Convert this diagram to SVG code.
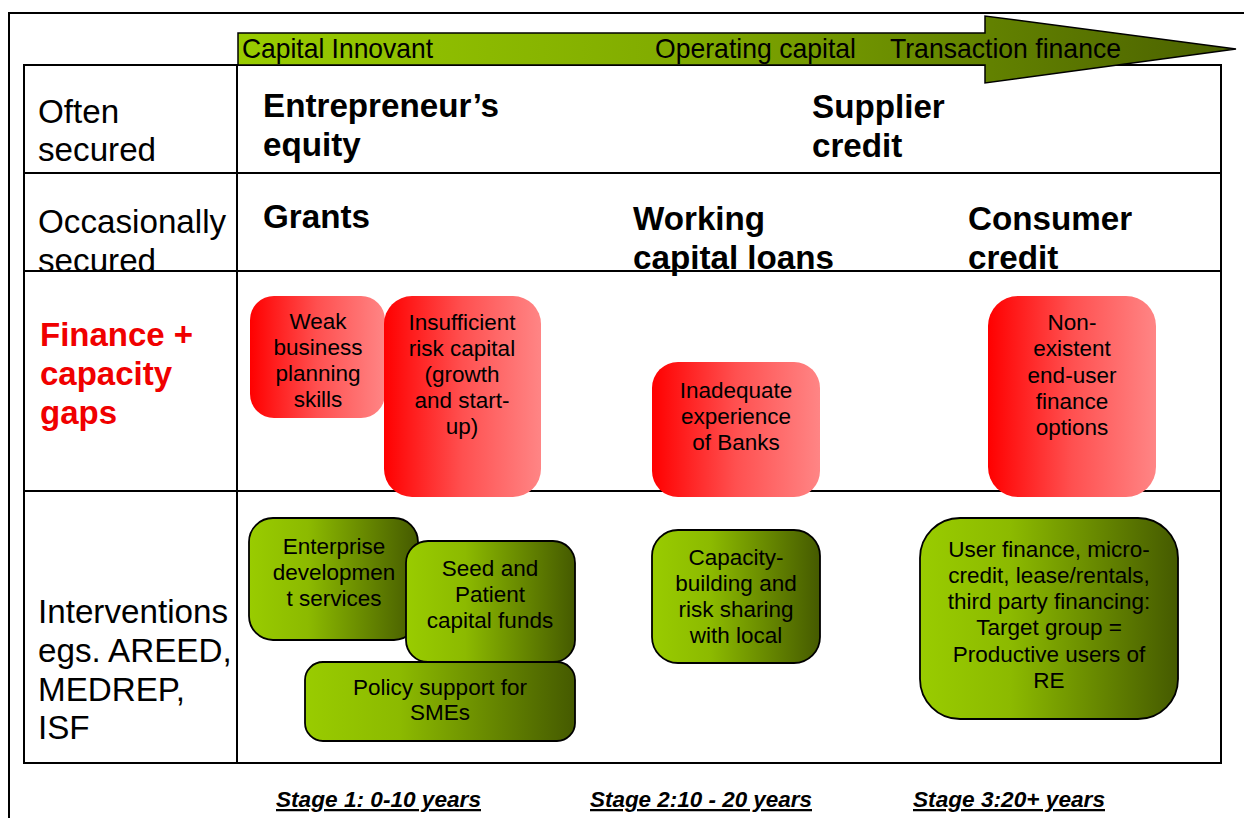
<svg xmlns="http://www.w3.org/2000/svg" width="1244" height="818" viewBox="0 0 1244 818">
<defs>
<linearGradient id="gRed" x1="0" y1="0" x2="1" y2="0">
<stop offset="0" stop-color="#ff0000"/>
<stop offset="0.5" stop-color="#ff5050"/>
<stop offset="1" stop-color="#ff8585"/>
</linearGradient>
<linearGradient id="gGreen" x1="0" y1="0" x2="1" y2="0">
<stop offset="0" stop-color="#99cc00"/>
<stop offset="0.35" stop-color="#8cba00"/>
<stop offset="1" stop-color="#455a00"/>
</linearGradient>
<linearGradient id="gArrow" gradientUnits="userSpaceOnUse" x1="238" y1="0" x2="1236" y2="0">
<stop offset="0" stop-color="#99cc00"/>
<stop offset="0.45" stop-color="#80aa00"/>
<stop offset="1" stop-color="#4a6000"/>
</linearGradient>
</defs>
<style>
text{font-family:"Liberation Sans",Arial,sans-serif;fill:#000}
.lab{font-size:33.2px}
.hd{font-size:33.2px;font-weight:bold}
.gap{font-size:33px;font-weight:bold;fill:#f00000}
.nt{font-size:22.5px;text-anchor:middle}
.ar{font-size:28px}
.st{font-size:22.5px;font-weight:bold;font-style:italic;text-decoration:underline}
.ln{stroke:#000;stroke-width:2;fill:none}
.red{fill:url(#gRed);stroke:none}
.grn{fill:url(#gGreen);stroke:#000;stroke-width:1.8}
</style>
<rect width="1244" height="818" fill="#fff"/>
<g id="frame">
<path class="ln" d="M9 818 V13 H1244"/>
</g>
<g id="table">
<rect class="ln" x="24" y="65" width="1197" height="698"/>
<line class="ln" x1="237" y1="65" x2="237" y2="763"/>
<line class="ln" x1="24" y1="173" x2="1221" y2="173"/>
<line class="ln" x1="24" y1="491" x2="1221" y2="491"/>
</g>
<g id="row-labels">
<text class="lab" x="38" y="123">Often</text>
<text class="lab" x="38" y="161">secured</text>
<text class="lab" x="38" y="233">Occasionally</text>
<text class="lab" x="38" y="272">secured</text>
<text class="gap" x="40" y="346">Finance +</text>
<text class="gap" x="40" y="385">capacity</text>
<text class="gap" x="40" y="424">gaps</text>
<text class="lab" x="38" y="623">Interventions</text>
<text class="lab" x="38" y="662">egs. AREED,</text>
<text class="lab" x="38" y="701">MEDREP,</text>
<text class="lab" x="38" y="739">ISF</text>
</g>
<g id="row-line-2">
<line class="ln" x1="24" y1="271" x2="1221" y2="271"/>
</g>
<g id="headers">
<text class="hd" x="263" y="117">Entrepreneur’s</text>
<text class="hd" x="263" y="156">equity</text>
<text class="hd" x="812" y="118">Supplier</text>
<text class="hd" x="812" y="157">credit</text>
<text class="hd" x="263" y="228">Grants</text>
<text class="hd" x="633" y="230">Working</text>
<text class="hd" x="633" y="269">capital loans</text>
<text class="hd" x="968" y="230">Consumer</text>
<text class="hd" x="968" y="269">credit</text>
</g>
<g id="arrow">
<path d="M238 33 H985 V16 L1236 49 L985 83 V65 H238 Z" fill="url(#gArrow)" stroke="#000" stroke-width="1.5"/>
<text class="ar" x="242" y="58" textLength="191" lengthAdjust="spacingAndGlyphs">Capital Innovant</text>
<text class="ar" x="655" y="58" textLength="201" lengthAdjust="spacingAndGlyphs">Operating capital</text>
<text class="ar" x="890" y="58" textLength="231" lengthAdjust="spacingAndGlyphs">Transaction finance</text>
</g>
<g id="gap-weak">
<rect class="red" x="250" y="296" width="135" height="122" rx="24"/>
<text class="nt" x="318" y="329">Weak</text>
<text class="nt" x="318" y="355">business</text>
<text class="nt" x="318" y="381">planning</text>
<text class="nt" x="318" y="407">skills</text>
</g>
<g id="gap-risk">
<rect class="red" x="384" y="296" width="157" height="201" rx="28"/>
<text class="nt" x="462" y="330">Insufficient</text>
<text class="nt" x="462" y="356">risk capital</text>
<text class="nt" x="462" y="382">(growth</text>
<text class="nt" x="462" y="408">and start-</text>
<text class="nt" x="462" y="434">up)</text>
</g>
<g id="gap-banks">
<rect class="red" x="652" y="362" width="168" height="135" rx="26"/>
<text class="nt" x="736" y="398">Inadequate</text>
<text class="nt" x="736" y="424">experience</text>
<text class="nt" x="736" y="450">of Banks</text>
</g>
<g id="gap-enduser">
<rect class="red" x="988" y="296" width="168" height="201" rx="30"/>
<text class="nt" x="1072" y="330">Non-</text>
<text class="nt" x="1072" y="356">existent</text>
<text class="nt" x="1072" y="383">end-user</text>
<text class="nt" x="1072" y="409">finance</text>
<text class="nt" x="1072" y="435">options</text>
</g>
<g id="int-eds">
<rect class="grn" x="249" y="518" width="169" height="122" rx="24"/>
<text class="nt" x="334" y="554">Enterprise</text>
<text class="nt" x="334" y="580">developmen</text>
<text class="nt" x="334" y="606">t services</text>
</g>
<g id="int-seed">
<rect class="grn" x="406" y="541" width="169" height="121" rx="22"/>
<text class="nt" x="490" y="576">Seed and</text>
<text class="nt" x="490" y="602">Patient</text>
<text class="nt" x="490" y="628">capital funds</text>
</g>
<g id="int-policy">
<rect class="grn" x="305" y="662" width="270" height="79" rx="18"/>
<text class="nt" x="440" y="695">Policy support for</text>
<text class="nt" x="440" y="720">SMEs</text>
</g>
<g id="int-capacity">
<rect class="grn" x="652" y="530" width="168" height="133" rx="26"/>
<text class="nt" x="736" y="565">Capacity-</text>
<text class="nt" x="736" y="591">building and</text>
<text class="nt" x="736" y="617">risk sharing</text>
<text class="nt" x="736" y="643">with local</text>
</g>
<g id="int-userfinance">
<rect class="grn" x="920" y="518" width="258" height="201" rx="40"/>
<text class="nt" x="1049" y="557">User finance, micro-</text>
<text class="nt" x="1049" y="583">credit, lease/rentals,</text>
<text class="nt" x="1049" y="609">third party financing:</text>
<text class="nt" x="1049" y="635">Target group =</text>
<text class="nt" x="1049" y="662">Productive users of</text>
<text class="nt" x="1049" y="688">RE</text>
</g>
<g id="connectors"></g>
<g id="stages">
<text class="st" x="276" y="807" textLength="205" lengthAdjust="spacingAndGlyphs">Stage 1: 0-10 years</text>
<text class="st" x="590" y="807" textLength="222" lengthAdjust="spacingAndGlyphs">Stage 2:10 - 20 years</text>
<text class="st" x="913" y="807" textLength="192" lengthAdjust="spacingAndGlyphs">Stage 3:20+ years</text>
</g>
</svg>
